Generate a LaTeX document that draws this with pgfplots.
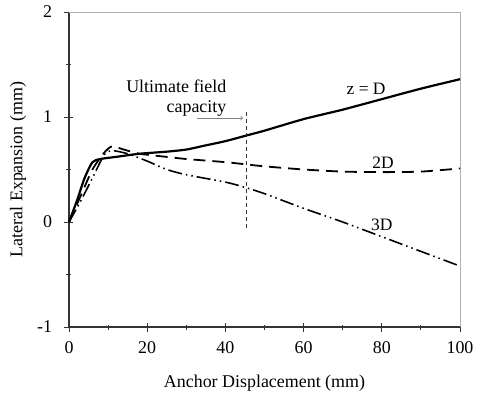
\documentclass[border=0pt]{standalone}
\usepackage{pgfplots}
\pgfplotsset{compat=1.18}
\usepackage{fontspec}
\setmainfont{Liberation Serif}
\begin{document}
\begin{tikzpicture}[font=\fontsize{18}{21}\selectfont]
\begin{axis}[
  scale only axis, width=391bp, height=315bp,
  xmin=0, xmax=100, ymin=-1, ymax=2,
  axis lines=left, axis line style={-, line width=1.3pt, black!80},
  xtick={0,20,...,100}, ytick={-1,0,1,2},
  minor x tick num=1, minor y tick num=1,
  tick align=center, major tick length=9bp, minor tick length=5bp,
  tick style={line width=1pt, black!80},
  /pgf/number format/assume math mode=true,
  ticklabel style={font=\fontsize{18}{20}\selectfont},
  xticklabel style={yshift=-7bp},
  yticklabel style={xshift=-9bp},
  xlabel={Anchor Displacement (mm)}, ylabel={Lateral Expansion (mm)},
  xlabel style={yshift=-14bp}, ylabel style={yshift=4bp},
  clip=false,
]
\draw[gray!60, line width=1pt] (axis cs:0,2) -- (axis cs:100,2) -- (axis cs:100,-1);
% z = D
\addplot[black, line width=2.2pt, smooth, tension=0.4] coordinates {
(0,0) (2,0.2) (4,0.42) (6,0.57) (8,0.6) (12,0.62) (18,0.65) (25,0.67) (30,0.69) (35,0.73) (40,0.77) (45,0.82) (50,0.87) (60,0.98) (70,1.07) (80,1.17) (90,1.27) (100,1.36)
};
% 2D
\addplot[black, line width=1.8pt, dash pattern=on 12bp off 7bp, smooth, tension=0.4] coordinates {
(0,0) (3,0.25) (6,0.5) (9,0.66) (11,0.72) (14,0.69) (18,0.65) (25,0.62) (30,0.6) (40,0.57) (45,0.55) (50,0.53) (60,0.5) (70,0.48) (80,0.475) (90,0.48) (100,0.51)
};
% 3D
\addplot[black, line width=1.6pt, dash pattern=on 14bp off 4bp on 1.5bp off 4bp on 1.5bp off 4bp, smooth, tension=0.4] coordinates {
(0,0) (3,0.2) (6,0.42) (9,0.64) (11,0.68) (15,0.65) (20,0.58) (25,0.5) (30,0.45) (40,0.38) (45,0.33) (50,0.27) (60,0.13) (70,0.0) (80,-0.14) (90,-0.28) (100,-0.42)
};
% ultimate line
\addplot[black!80, line width=0.8pt, dash pattern=on 4bp off 3bp] coordinates {(45.3,1.05) (45.3,-0.08)};
\draw[gray, line width=0.8pt, ->] (axis cs:32.7,0.99) -- (axis cs:44.5,0.99);
\node[anchor=east, align=right, inner sep=0pt, font=\fontsize{18}{20.5}\selectfont] at (axis cs:40.3,1.18) {Ultimate field\\capacity};
\node[font=\fontsize{17.5}{20}\selectfont] at (axis cs:76,1.27) {z = D};
\node[font=\fontsize{17.5}{20}\selectfont] at (axis cs:80.3,0.56) {2D};
\node[font=\fontsize{17.5}{20}\selectfont] at (axis cs:80,-0.03) {3D};
\end{axis}
\pgfresetboundingbox
\useasboundingbox (-69bp,-71bp) rectangle (408bp,327bp);
\end{tikzpicture}
\end{document}
